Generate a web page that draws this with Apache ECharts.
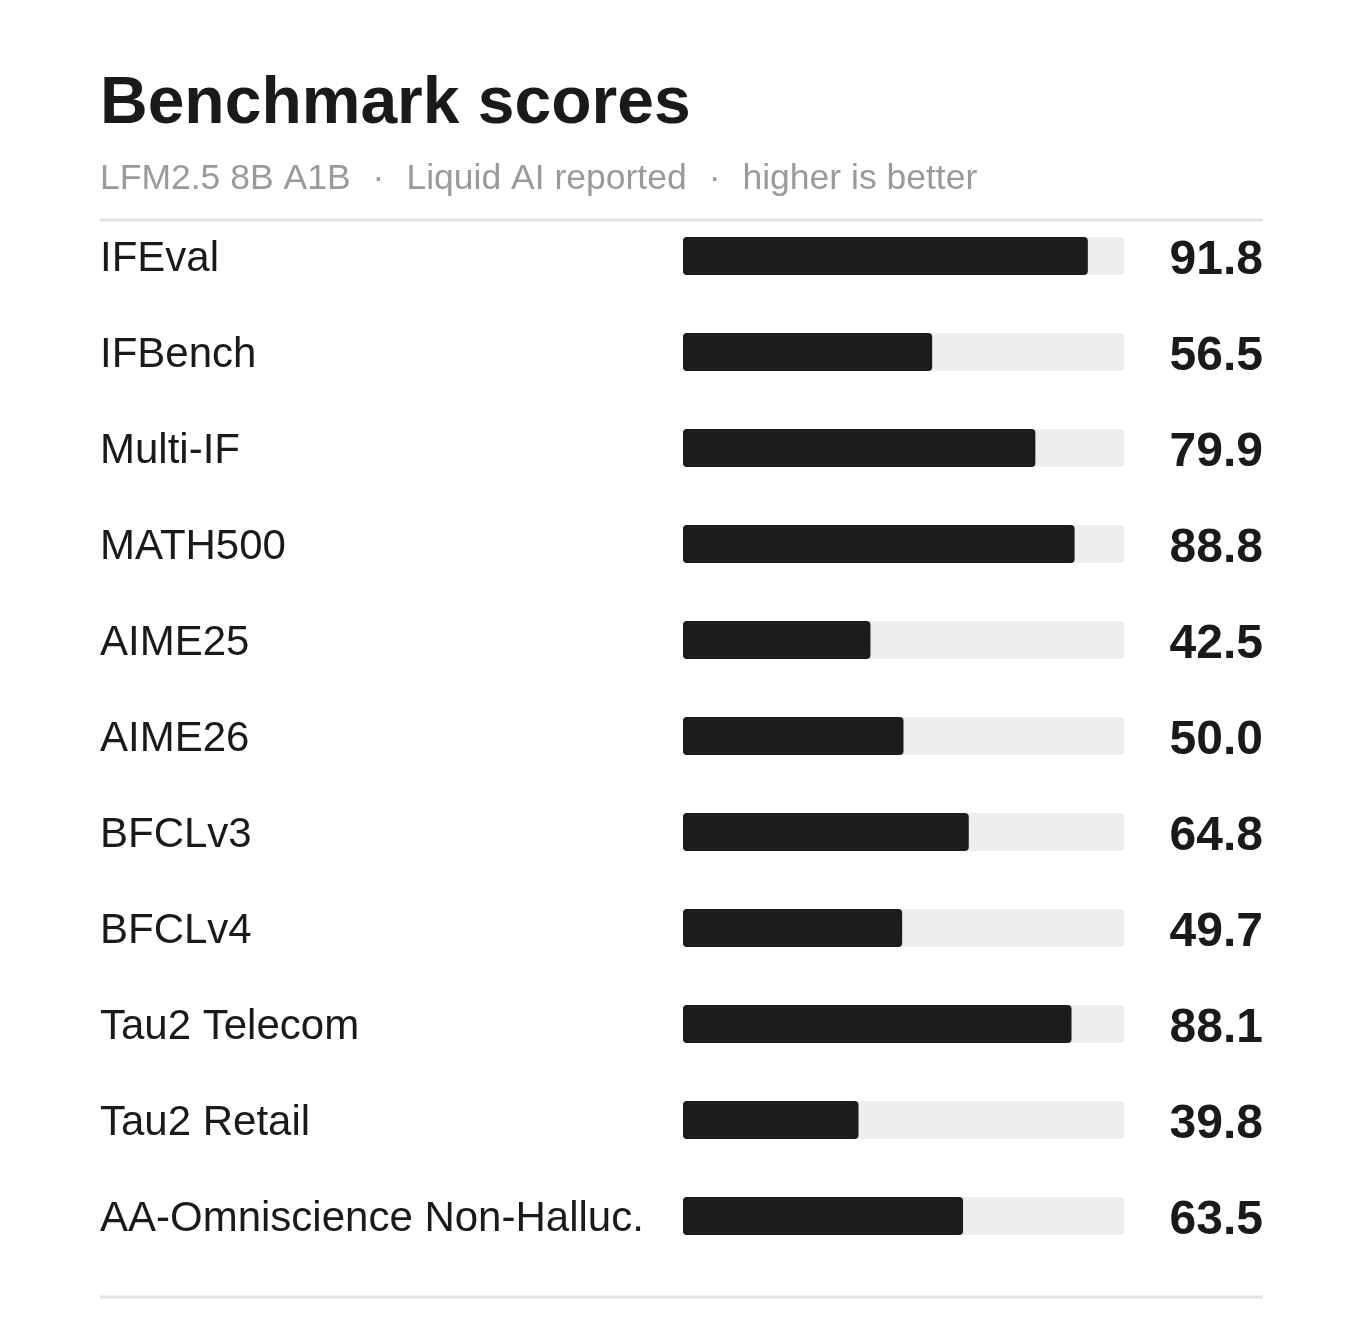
<!DOCTYPE html>
<html><head><meta charset="utf-8">
<script src="https://cdn.jsdelivr.net/npm/echarts@6/dist/echarts.min.js"></script>
<style>html,body{margin:0;padding:0;background:#fff}#c{width:1363px;height:1336px}</style>
</head><body><div id="c"></div>
<script>
const categories = ["IFEval","IFBench","Multi-IF","MATH500","AIME25","AIME26","BFCLv3","BFCLv4","Tau2 Telecom","Tau2 Retail","AA-Omniscience Non-Halluc."];
const scores = [91.8,56.5,79.9,88.8,42.5,50.0,64.8,49.7,88.1,39.8,63.5];
const titleText = "Benchmark scores";
const subtitleParts = ["LFM2.5 8B A1B","Liquid AI reported","higher is better"];
const FONT = "'Liberation Sans', Arial, sans-serif";

const subtitleRich = subtitleParts.map(p => '{t|' + p + '}').join('{s|\u00b7}');

const chart = echarts.init(document.getElementById('c'), null, {renderer:'canvas'});
chart.setOption({
  backgroundColor:'#ffffff',
  animation:false,
  title:[
    {text:titleText,left:95,top:67,textStyle:{fontFamily:FONT,fontSize:66,fontWeight:'bold',color:'#1a1a1a'}},
    {text:subtitleRich,left:95,top:156,textStyle:{fontFamily:FONT,fontSize:35.5,fontWeight:'normal',color:'#9a9a9a',
      rich:{t:{fontFamily:FONT,fontSize:35.5,fontWeight:'normal',color:'#9a9a9a'},
            s:{fontFamily:FONT,fontSize:35.5,fontWeight:'normal',color:'#9a9a9a',padding:[0,22,0,22]}}}}
  ],
  grid:{left:683,width:441,top:208,height:1056,containLabel:false},
  xAxis:{type:'value',min:0,max:100,show:false},
  yAxis:[
    {type:'category',data:categories,inverse:true,position:'left',
     axisLine:{show:false},axisTick:{show:false},splitLine:{show:false},
     axisLabel:{align:'left',verticalAlign:'top',lineHeight:6,margin:583,fontFamily:FONT,fontSize:42,color:'#1a1a1a'}},
    {type:'category',data:scores.map(v=>v.toFixed(1)),inverse:true,position:'right',
     axisLine:{show:false},axisTick:{show:false},splitLine:{show:false},
     axisLabel:{align:'right',verticalAlign:'top',lineHeight:10,margin:139,fontFamily:FONT,fontSize:48,fontWeight:'bold',color:'#1a1a1a'}}
  ],
  series:[{
    type:'bar',data:scores,barWidth:38,yAxisIndex:0,
    itemStyle:{color:'#1c1c1c',borderRadius:4},
    showBackground:true,backgroundStyle:{color:'#eeeeee',borderRadius:4}
  }],
  graphic:[
    {type:'line',shape:{x1:100,y1:220,x2:1263,y2:220},style:{stroke:'#e3e3e3',lineWidth:3}},
    {type:'line',shape:{x1:100,y1:1297,x2:1263,y2:1297},style:{stroke:'#e3e3e3',lineWidth:3}}
  ]
});
</script></body></html>
